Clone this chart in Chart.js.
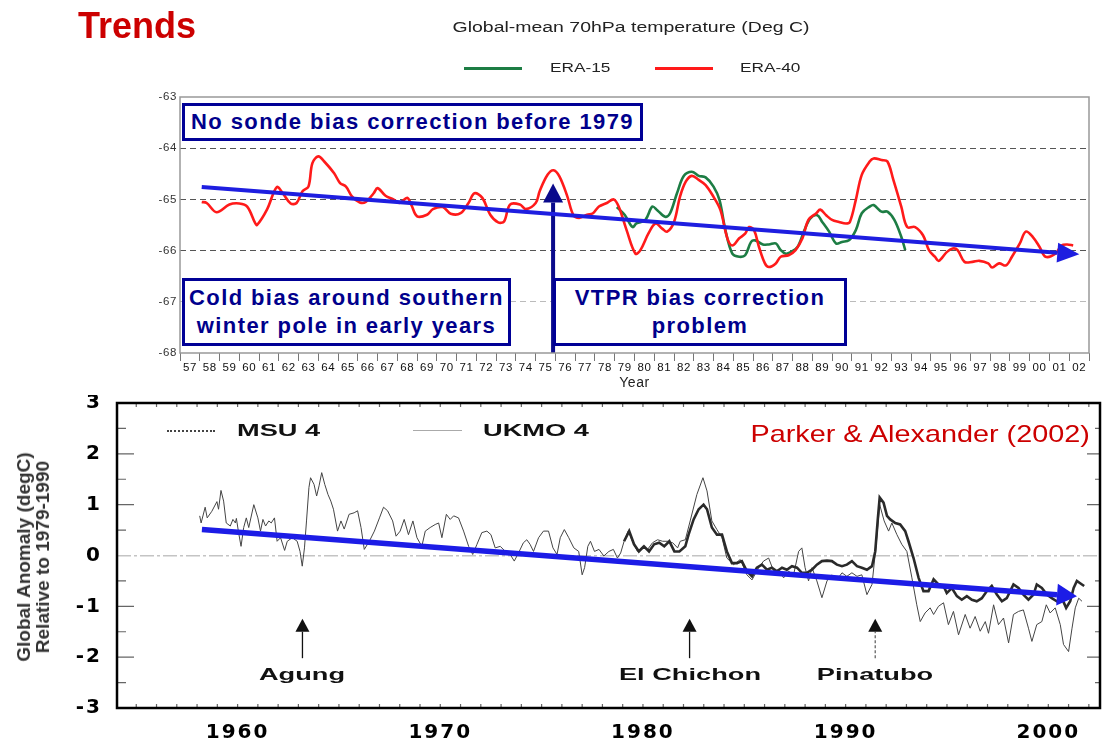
<!DOCTYPE html>
<html>
<head>
<meta charset="utf-8">
<script src="https://cdn.jsdelivr.net/npm/chart.js@4.4.1/dist/chart.umd.min.js"></script>
<style>
  html, body { margin: 0; padding: 0; background: #fff; }
  #page { position: relative; width: 1104px; height: 738px; overflow: hidden; font-family: "Liberation Sans", Arial, sans-serif; }
  canvas { position: absolute; left: 0; }
  .lbl { position: absolute; white-space: nowrap; }
  .box { position: absolute; box-sizing: border-box; border: 3px solid #000096; background: #fff; color: #00008c;
         font-weight: bold; font-size: 22px; letter-spacing: 1.4px; line-height: 28px; text-align: center;
         display: flex; align-items: center; justify-content: center; }
  .swatch { position: absolute; height: 0; }
  .btxt { font-weight: bold; font-size: 17px; color: #111; transform-origin: left center; transform: translateY(-50%) scaleX(1.6); }
  .volc { font-weight: bold; font-size: 17px; color: #111; transform: translate(-50%, -50%) scaleX(1.6); }
</style>
</head>
<body>
<div id="page">
  <canvas id="topChart" width="1104" height="398" style="top:0"></canvas>
  <canvas id="bottomChart" width="1104" height="343" style="top:395px"></canvas>

  <div class="lbl" style="left:78px;top:6px;font-size:36px;line-height:40px;font-weight:bold;color:#cc0000">Trends</div>
  <div class="lbl" style="left:631px;top:27px;font-size:14px;color:#222;transform:translate(-50%,-50%) scaleX(1.39)">Global-mean 70hPa temperature (Deg C)</div>

  <div class="swatch" style="left:464px;top:67px;width:58px;border-top:3px solid #1d7d44"></div>
  <div class="lbl" style="left:550px;top:68px;font-size:12.5px;color:#222;transform-origin:left center;transform:translateY(-50%) scaleX(1.38)">ERA-15</div>
  <div class="swatch" style="left:655px;top:67px;width:58px;border-top:3px solid #ff1a1a"></div>
  <div class="lbl" style="left:740px;top:68px;font-size:12.5px;color:#222;transform-origin:left center;transform:translateY(-50%) scaleX(1.38)">ERA-40</div>

  <div class="box" style="left:182px;top:103px;width:461px;height:38px">No sonde bias correction before 1979</div>
  <div class="box" style="left:182px;top:278px;width:329px;height:68px">Cold bias around southern<br>winter pole in early years</div>
  <div class="box" style="left:553px;top:278px;width:294px;height:68px">VTPR bias correction<br>problem</div>

  <div class="swatch" style="left:167px;top:430px;width:48px;border-top:2px dotted #444"></div>
  <div class="lbl btxt" style="left:237px;top:431px">MSU 4</div>
  <div class="swatch" style="left:413px;top:430px;width:49px;border-top:1.5px solid #aaa"></div>
  <div class="lbl btxt" style="left:483px;top:431px">UKMO 4</div>
  <div class="lbl" style="right:14px;top:420px;font-size:24px;line-height:28px;color:#cc0000;transform-origin:right center;transform:scaleX(1.2)">Parker &amp; Alexander (2002)</div>

  <div class="lbl" style="left:33px;top:557px;font-size:19px;line-height:19px;font-weight:bold;color:#333;text-align:center;transform:translate(-50%,-50%) rotate(-90deg)">Global Anomaly (degC)<br>Relative to 1979-1990</div>
</div>

<script>
// ---- top panel: global-mean 70hPa temperature ----
const topYearLabels = ['57','58','59','60','61','62','63','64','65','66','67','68','69','70','71','72','73','74','75','76','77','78','79',
  '80','81','82','83','84','85','86','87','88','89','90','91','92','93','94','95','96','97','98','99','00','01','02'];

const era40Years = [1958.1, 1958.35, 1958.85, 1959.5, 1960.0, 1960.4, 1960.8, 1960.9, 1961.4, 1961.9, 1962.2, 1962.6, 1962.9,
  1963.2, 1963.5, 1963.7, 1964.0, 1964.3, 1964.8, 1965.1, 1965.4, 1965.7, 1966.1, 1966.4, 1966.8, 1967.0, 1967.4, 1967.8,
  1968.1, 1968.5, 1968.7, 1969.0, 1969.5, 1969.8, 1970.3, 1970.7, 1971.2, 1971.6, 1971.9, 1972.3, 1972.7, 1973.1, 1973.4,
  1973.7, 1974.2, 1974.5, 1975.0, 1975.2, 1975.6, 1975.9, 1976.2, 1976.6, 1976.9, 1977.2, 1977.6, 1977.9, 1978.2, 1978.6,
  1978.95, 1979.2, 1979.6, 1980.05, 1980.3, 1980.7, 1981.06, 1981.4, 1981.65, 1982.0, 1982.3, 1982.6, 1982.9, 1983.25,
  1983.6, 1984.0, 1984.35, 1984.7, 1984.95, 1985.3, 1985.6, 1985.8, 1986.05, 1986.3, 1986.6, 1986.8, 1987.15, 1987.4,
  1987.8, 1988.15, 1988.5, 1988.8, 1989.2, 1989.4, 1989.7, 1990.0, 1990.35, 1990.7, 1990.9, 1991.2, 1991.5, 1991.9,
  1992.1, 1992.5, 1992.8, 1993.1, 1993.5, 1993.8, 1994.2, 1994.6, 1994.9, 1995.2, 1995.4, 1995.8, 1996.1, 1996.35,
  1996.7, 1997.1, 1997.45, 1997.9, 1998.1, 1998.45, 1998.8, 1999.1, 1999.5, 1999.8, 2000.15, 2000.5, 2000.8, 2001.3,
  2001.6, 2001.9, 2002.2];
const era40Temp = [-65.05, -65.07, -65.25, -65.1, -65.08, -65.14, -65.46, -65.5, -65.2, -64.76, -64.88, -65.08, -65.07,
  -64.84, -64.75, -64.29, -64.16, -64.26, -64.49, -64.68, -64.75, -64.94, -65.06, -65.05, -64.88, -64.78, -64.93, -65.0,
  -65.07, -64.97, -65.1, -65.33, -65.3, -65.19, -65.15, -65.28, -65.27, -65.07, -64.88, -64.97, -65.3, -65.45, -65.43,
  -65.1, -65.1, -65.19, -65.07, -64.84, -64.52, -64.43, -64.55, -64.94, -65.3, -65.36, -65.3, -65.27, -65.14, -65.07,
  -65.0, -65.14, -65.6, -66.06, -65.99, -65.67, -65.47, -65.57, -65.63, -65.44, -64.95, -64.65, -64.54, -64.62,
  -64.72, -64.95, -65.21, -65.76, -65.9, -65.76, -65.67, -65.54, -65.6, -65.93, -66.25, -66.32, -66.25, -66.12,
  -66.09, -65.99, -65.76, -65.4, -65.27, -65.2, -65.31, -65.4, -65.44, -65.47, -65.44, -65.01, -64.52, -64.26,
  -64.2, -64.23, -64.26, -64.62, -65.14, -65.54, -65.54, -65.7, -65.99, -66.12, -66.2, -66.03, -65.96, -65.99,
  -66.22, -66.22, -66.2, -66.25, -66.33, -66.25, -66.29, -66.12, -65.86, -65.63, -65.73, -65.93, -66.12, -66.06,
  -65.9, -65.88, -65.9];

const era15Years = [1979.1, 1979.5, 1979.9, 1980.1, 1980.55, 1980.9, 1981.15, 1981.55, 1981.8, 1982.15, 1982.5, 1982.9,
  1983.25, 1983.6, 1984.0, 1984.3, 1984.6, 1984.95, 1985.3, 1985.6, 1985.9, 1986.1, 1986.5, 1986.8, 1987.15, 1987.4,
  1987.65, 1987.9, 1988.25, 1988.6, 1988.9, 1989.25, 1989.5, 1989.85, 1990.2, 1990.5, 1990.85, 1991.2, 1991.5, 1991.9,
  1992.1, 1992.5, 1992.8, 1993.15, 1993.5, 1993.7];
const era15Temp = [-65.15, -65.3, -65.54, -65.47, -65.4, -65.14, -65.21, -65.34, -65.27, -64.88, -64.54, -64.46,
  -64.54, -64.57, -64.75, -65.01, -65.6, -66.06, -66.12, -66.09, -65.83, -65.8, -65.88, -65.88, -65.86, -65.99,
  -66.06, -66.03, -65.93, -65.6, -65.37, -65.31, -65.44, -65.63, -65.86, -65.83, -65.8, -65.6, -65.27, -65.14,
  -65.11, -65.24, -65.24, -65.4, -65.73, -65.99];

const topTrendYears = [1958.1, 2001.4];
const topTrendTemp = [-64.76, -66.04];
const vtprYears = [1975.88, 1975.88];
const vtprTemp = [-68, -65.06];

// ---- bottom panel: Parker & Alexander anomalies ----
const decadeTicks = [1960, 1970, 1980, 1990, 2000];

const ukmoYears = [1958.13, 1958.2, 1958.4, 1958.5, 1958.73, 1958.98, 1959.06, 1959.18, 1959.31, 1959.44, 1959.64, 1959.77,
  1959.89, 1959.94, 1960.05, 1960.17, 1960.3, 1960.43, 1960.55, 1960.8, 1961.0, 1961.13, 1961.25, 1961.38, 1961.54,
  1961.66, 1961.82, 1961.95, 1962.12, 1962.32, 1962.45, 1962.7, 1962.94, 1963.08, 1963.19, 1963.3, 1963.4, 1963.52,
  1963.6, 1963.77, 1963.9, 1964.02, 1964.15, 1964.3, 1964.46, 1964.6, 1964.73, 1964.93, 1965.1, 1965.26, 1965.5,
  1965.75, 1965.92, 1966.09, 1966.25, 1966.5, 1966.75, 1967.0, 1967.2, 1967.4, 1967.65, 1967.82, 1968.02, 1968.22,
  1968.43, 1968.65, 1968.85, 1969.09, 1969.26, 1969.5, 1969.75, 1969.92, 1970.08, 1970.3, 1970.49, 1970.66, 1970.9,
  1971.15, 1971.4, 1971.6, 1971.81, 1972.05, 1972.3, 1972.5, 1972.71, 1972.96, 1973.21, 1973.45, 1973.65, 1973.86,
  1974.1, 1974.27, 1974.43, 1974.6, 1974.85, 1975.09, 1975.34, 1975.56, 1975.76, 1975.92, 1976.12, 1976.34, 1976.59,
  1976.83, 1977.0, 1977.12, 1977.28, 1977.41, 1977.61, 1977.83, 1978.07, 1978.32, 1978.54, 1978.74, 1978.9, 1979.07,
  1979.27, 1979.48, 1979.73, 1979.98, 1980.23, 1980.47, 1980.72, 1980.97, 1981.22, 1981.47, 1981.71, 1981.84, 1982.09,
  1982.33, 1982.66, 1982.96, 1983.16, 1983.4, 1983.65, 1983.9, 1984.14, 1984.47, 1984.8, 1985.13, 1985.38, 1985.71,
  1985.95, 1986.2, 1986.45, 1986.69, 1986.94, 1987.19, 1987.43, 1987.68, 1987.84, 1988.0, 1988.17, 1988.34, 1988.58,
  1988.83, 1989.08, 1989.32, 1989.57, 1989.82, 1990.06, 1990.31, 1990.56, 1990.8, 1991.05, 1991.3, 1991.51, 1991.68,
  1991.9, 1992.12, 1992.28, 1992.53, 1992.77, 1993.02, 1993.27, 1993.51, 1993.68, 1993.92, 1994.17, 1994.34, 1994.58,
  1994.83, 1995.07, 1995.32, 1995.57, 1995.9, 1996.14, 1996.39, 1996.64, 1996.89, 1997.05, 1997.3, 1997.54, 1997.79,
  1998.04, 1998.28, 1998.53, 1998.77, 1999.02, 1999.19, 1999.43, 1999.68, 1999.9, 2000.09, 2000.34, 2000.59, 2000.75,
  2001.0, 2001.17, 2001.33, 2001.5, 2001.66];
const ukmoAnom = [0.78, 0.64, 0.95, 0.74, 0.87, 1.06, 0.91, 1.28, 1.07, 0.64, 0.58, 0.71,
  0.64, 0.73, 0.45, 0.18, 0.55, 0.74, 0.55, 1.0, 0.74, 0.48, 0.71, 0.58, 0.68,
  0.64, 0.74, 0.28, 0.35, 0.1, 0.28, 0.35, 0.28, 0.08, -0.21, 0.15, 0.68, 1.34,
  1.53, 1.4, 1.17, 1.37, 1.63, 1.4, 1.2, 1.07, 0.91, 0.48, 0.68, 0.52, 0.81,
  0.84, 0.88, 0.55, 0.12, 0.28, 0.48, 0.74, 0.95, 0.88, 0.68, 0.38, 0.48, 0.71,
  0.41, 0.68, 0.35, 0.18, 0.48, 0.55, 0.61, 0.64, 0.35, 0.81, 0.71, 0.78, 0.74,
  0.48, 0.18, 0.02, 0.22, 0.45, 0.48, 0.41, 0.15, 0.18, 0.08, 0.02, -0.11, 0.05,
  0.25, 0.31, 0.22, 0.08, 0.35, 0.48, 0.48, 0.15, 0.02, 0.35, 0.51, 0.35, 0.15,
  0.08, -0.38, -0.24, 0.18, 0.28, 0.08, 0.12, -0.01, 0.08, 0.12, -0.05, 0.05, 0.28,
  0.48, 0.28, 0.08, 0.18, 0.12, 0.25, 0.31, 0.28, 0.28, 0.25, 0.15, 0.28, 0.31,
  0.68, 1.2, 1.53, 1.27, 0.68, 0.51, 0.35, -0.05, -0.18, -0.08, -0.38, -0.48, -0.24,
  -0.11, -0.05, -0.31, -0.28, -0.44, -0.31, -0.38, 0.08, 0.15, -0.24, -0.5, -0.24, -0.5,
  -0.83, -0.5, -0.38, -0.48, -0.34, -0.41, -0.34, -0.41, -0.38, -0.77, -0.57, 0.22, 1.0,
  0.68, 0.48, 0.64, 0.41, 0.22, 0.08, -0.44, -0.97, -1.3, -1.13, -1.03, -1.16, -1.0,
  -0.93, -1.36, -1.1, -1.56, -1.16, -1.43, -1.2, -1.49, -1.3, -1.53, -0.97, -1.36, -1.23,
  -1.72, -1.16, -1.1, -1.07, -1.43, -1.69, -1.36, -1.3, -0.97, -1.13, -1.03, -1.36, -1.75,
  -1.89, -1.43, -1.03, -0.84, -0.9];

const msuYears = [1979.07, 1979.32, 1979.56, 1979.8, 1980.05, 1980.3, 1980.55, 1980.8, 1981.05, 1981.3, 1981.55, 1981.8,
  1982.09, 1982.25, 1982.5, 1982.75, 1982.99, 1983.16, 1983.4, 1983.65, 1983.9, 1984.14, 1984.39, 1984.64, 1984.88,
  1985.13, 1985.38, 1985.62, 1985.87, 1986.12, 1986.36, 1986.61, 1986.86, 1987.1, 1987.35, 1987.6, 1987.84, 1988.09,
  1988.34, 1988.58, 1988.83, 1989.08, 1989.32, 1989.57, 1989.82, 1990.06, 1990.31, 1990.56, 1990.8, 1991.05, 1991.3,
  1991.46, 1991.58, 1991.68, 1991.87, 1992.04, 1992.2, 1992.45, 1992.69, 1992.94, 1993.1, 1993.35, 1993.6, 1993.84,
  1994.09, 1994.34, 1994.58, 1994.83, 1994.99, 1995.24, 1995.49, 1995.73, 1995.98, 1996.23, 1996.47, 1996.72, 1996.97,
  1997.21, 1997.46, 1997.71, 1997.95, 1998.12, 1998.28, 1998.53, 1998.77, 1999.02, 1999.27, 1999.43, 1999.68, 1999.93,
  2000.17, 2000.42, 2000.67, 2000.88, 2001.08, 2001.25, 2001.41, 2001.66, 2001.77];
const msuAnom = [0.28, 0.48, 0.22, 0.08, 0.18, 0.08, 0.22, 0.25, 0.18, 0.28, 0.08, 0.08,
  0.18, 0.41, 0.71, 0.91, 1.0, 0.91, 0.55, 0.41, 0.41, 0.08, -0.15, -0.15, -0.11,
  -0.31, -0.41, -0.24, -0.18, -0.28, -0.24, -0.31, -0.24, -0.28, -0.21, -0.24, -0.34, -0.34,
  -0.28, -0.18, -0.11, -0.1, -0.11, -0.18, -0.21, -0.18, -0.11, -0.21, -0.24, -0.28, -0.21,
  0.08, 0.68, 1.14, 1.04, 0.78, 0.71, 0.64, 0.61, 0.48, 0.28, -0.05, -0.44, -0.7,
  -0.7, -0.47, -0.57, -0.6, -0.74, -0.64, -0.8, -0.87, -0.8, -0.87, -0.9, -0.84, -0.7,
  -0.6, -0.77, -0.9, -0.84, -0.7, -0.57, -0.64, -0.77, -0.87, -0.77, -0.57, -0.64, -0.77,
  -0.84, -0.9, -0.84, -1.03, -0.9, -0.64, -0.5, -0.57, -0.6];

const bottomTrendYears = [1958.24, 2000.43];
const bottomTrendAnom = [0.51, -0.77];

const volcanoNames = ['Agung', 'El Chichon', 'Pinatubo'];
const volcanoYears = [1963.2, 1982.3, 1991.46];
const volcanoArrowAnom = [-2.02, -1.5];

// ---- helpers ----
Chart.defaults.font.family = '"Liberation Sans", Arial, sans-serif';
const pts = (xs, ys) => xs.map((x, i) => ({ x, y: ys[i] }));

const arrowHeads = {
  id: 'arrowHeads',
  afterDatasetsDraw(chart) {
    const ctx = chart.ctx;
    chart.data.datasets.forEach((ds, i) => {
      if (!ds.head) return;
      const p = chart.getDatasetMeta(i).data;
      const a = p[p.length - 2], b = p[p.length - 1];
      const dx = b.x - a.x, dy = b.y - a.y, d = Math.hypot(dx, dy);
      const ux = dx / d, uy = dy / d;
      const [len, half] = ds.head;
      ctx.save();
      ctx.fillStyle = ds.headColor || ds.borderColor;
      ctx.beginPath();
      ctx.moveTo(b.x + ux * len, b.y + uy * len);
      ctx.lineTo(b.x - uy * half, b.y + ux * half);
      ctx.lineTo(b.x + uy * half, b.y - ux * half);
      ctx.closePath();
      ctx.fill();
      ctx.restore();
    });
  }
};

const frame = (color, width) => ({
  id: 'frame',
  afterDatasetsDraw(chart) {
    const { ctx, chartArea: a } = chart;
    ctx.save();
    ctx.strokeStyle = color;
    ctx.lineWidth = width;
    ctx.strokeRect(a.left, a.top, a.right - a.left, a.bottom - a.top);
    ctx.restore();
  }
});

// the source figure is horizontally stretched, so widen the axis text a little
const spacedText = (px) => ({
  id: 'spacedText',
  beforeDraw(chart) { chart.ctx.letterSpacing = px; },
  beforeDatasetsDraw(chart) { chart.ctx.letterSpacing = '0px'; }
});

const inwardTicks = {
  id: 'inwardTicks',
  afterDatasetsDraw(chart) {
    const { ctx, chartArea: a, scales: { x, y } } = chart;
    ctx.save();
    ctx.strokeStyle = '#666';
    ctx.lineWidth = 1.2;
    ctx.beginPath();
    for (let yr = Math.ceil(x.min); yr <= x.max; yr++) {
      const px = x.getPixelForValue(yr);
      ctx.moveTo(px, a.top); ctx.lineTo(px, a.top + 4);
      ctx.moveTo(px, a.bottom); ctx.lineTo(px, a.bottom - 4);
    }
    for (let v = -2.5; v <= 2.5; v += 0.5) {
      if (v === 0) continue;
      const major = Number.isInteger(v);
      const py = y.getPixelForValue(v);
      ctx.moveTo(a.left, py); ctx.lineTo(a.left + (major ? 17 : 9), py);
      ctx.moveTo(a.right, py); ctx.lineTo(a.right - (major ? 13 : 5), py);
    }
    ctx.stroke();
    ctx.restore();
  }
};

// keep the plot box exactly where the layout padding puts it
const noEdgePadding = s => { s.paddingTop = 0; s.paddingBottom = 0; s.paddingLeft = 0; s.paddingRight = 0; };

// ---- top chart ----
new Chart(document.getElementById('topChart'), {
  type: 'line',
  data: {
    datasets: [
      { label: 'ERA-40', data: pts(era40Years, era40Temp), borderColor: '#ff1a1a', borderWidth: 2.6, tension: 0.35, pointRadius: 0, order: 1 },
      { label: 'ERA-15', data: pts(era15Years, era15Temp), borderColor: '#1d7d44', borderWidth: 2.6, tension: 0.35, pointRadius: 0, order: 2 },
      { label: 'trend', data: pts(topTrendYears, topTrendTemp), borderColor: '#1e1ee0', borderWidth: 4, pointRadius: 0, order: 0, head: [22, 10] },
      { label: 'VTPR', data: pts(vtprYears, vtprTemp), borderColor: '#0a0a8c', borderWidth: 4, pointRadius: 0, order: 0, head: [19, 10] }
    ]
  },
  options: {
    responsive: false,
    animation: false,
    events: [],
    layout: { padding: { left: 140, right: 15, top: 97, bottom: 0 } },
    plugins: { legend: { display: false }, tooltip: { enabled: false } },
    scales: {
      x: {
        type: 'linear', min: 1957, max: 2003,
        afterBuildTicks: s => { s.ticks = topYearLabels.concat('').map((_, i) => ({ value: 1957 + i })); },
        afterFit: s => { s.height = 45; noEdgePadding(s); },
        ticks: {
          callback: (v, i) => topYearLabels[i] ?? '',
          labelOffset: 9.9, padding: 0, autoSkip: false, maxRotation: 0, minRotation: 0,
          font: { size: 11.5 }, color: '#111'
        },
        grid: { drawOnChartArea: false, tickLength: 8, color: '#777' },
        border: { display: false },
        title: { display: true, text: 'Year', font: { size: 14 }, color: '#222', padding: { top: 0, bottom: 6 } }
      },
      y: {
        min: -68, max: -63,
        afterFit: s => { s.width = 40; noEdgePadding(s); },
        ticks: { stepSize: 1, padding: 3, font: { size: 11.5 }, color: '#333' },
        grid: {
          drawTicks: false, lineWidth: 1, borderDash: [6, 4],
          color: c => [-64, -65, -66].includes(c.tick.value) ? '#555' : (c.tick.value === -67 ? '#bbb' : 'rgba(0,0,0,0)')
        },
        border: { display: false, dash: [6, 4] }
      }
    }
  },
  plugins: [spacedText('0.6px'), frame('#999', 1.5), arrowHeads]
});

// ---- bottom chart ----
const volcanoSets = volcanoYears.map((yr, i) => ({
  label: volcanoNames[i],
  data: pts([yr, yr], volcanoArrowAnom),
  borderColor: i === 2 ? '#666' : '#111',
  headColor: '#111',
  borderDash: i === 2 ? [3, 2] : [],
  borderWidth: 1.3, pointRadius: 0, order: 0, head: [13, 7]
}));

const bottomChart = new Chart(document.getElementById('bottomChart'), {
  type: 'line',
  data: {
    datasets: [
      { label: 'MSU 4', data: pts(msuYears, msuAnom), borderColor: '#2a2a2a', borderWidth: 2.6, pointRadius: 0, order: 1 },
      { label: 'UKMO 4', data: pts(ukmoYears, ukmoAnom), borderColor: '#444', borderWidth: 1, pointRadius: 0, order: 2 },
      { label: 'trend', data: pts(bottomTrendYears, bottomTrendAnom), borderColor: '#1c1ce6', borderWidth: 5.5, pointRadius: 0, order: 0, head: [20, 11] },
      ...volcanoSets
    ]
  },
  options: {
    responsive: false,
    animation: false,
    events: [],
    layout: { padding: { left: 0, right: 4, top: 8, bottom: 0 } },
    plugins: { legend: { display: false }, tooltip: { enabled: false } },
    scales: {
      x: {
        type: 'linear', min: 1954.05, max: 2002.55,
        afterBuildTicks: s => { s.ticks = decadeTicks.map(v => ({ value: v })); },
        afterFit: s => { s.height = 30; noEdgePadding(s); },
        ticks: {
          callback: v => String(v), padding: 5, autoSkip: false, maxRotation: 0, minRotation: 0,
          font: { family: '"DejaVu Sans", sans-serif', weight: 'bold', size: 20 }, color: '#000'
        },
        grid: { display: false },
        border: { display: false }
      },
      y: {
        min: -3, max: 3,
        afterFit: s => { s.width = 117; noEdgePadding(s); },
        ticks: { stepSize: 1, padding: 15, font: { family: '"DejaVu Sans", sans-serif', weight: 'bold', size: 20 }, color: '#000' },
        grid: {
          drawTicks: false, lineWidth: 1.5, borderDash: [14, 3, 3, 3],
          color: c => c.tick.value === 0 ? '#c4c4c4' : 'rgba(0,0,0,0)'
        },
        border: { display: false, dash: [14, 3, 3, 3] }
      }
    }
  },
  plugins: [spacedText('2px'), inwardTicks, frame('#000', 2.5), arrowHeads]
});

// volcano names sit under their arrows
const page = document.getElementById('page');
const canvasTop = 395;
volcanoNames.forEach((name, i) => {
  const d = document.createElement('div');
  d.className = 'lbl volc';
  d.textContent = name;
  d.style.left = bottomChart.scales.x.getPixelForValue(volcanoYears[i]) + 'px';
  d.style.top = (canvasTop + bottomChart.scales.y.getPixelForValue(-2.35)) + 'px';
  page.appendChild(d);
});
</script>
</body>
</html>
